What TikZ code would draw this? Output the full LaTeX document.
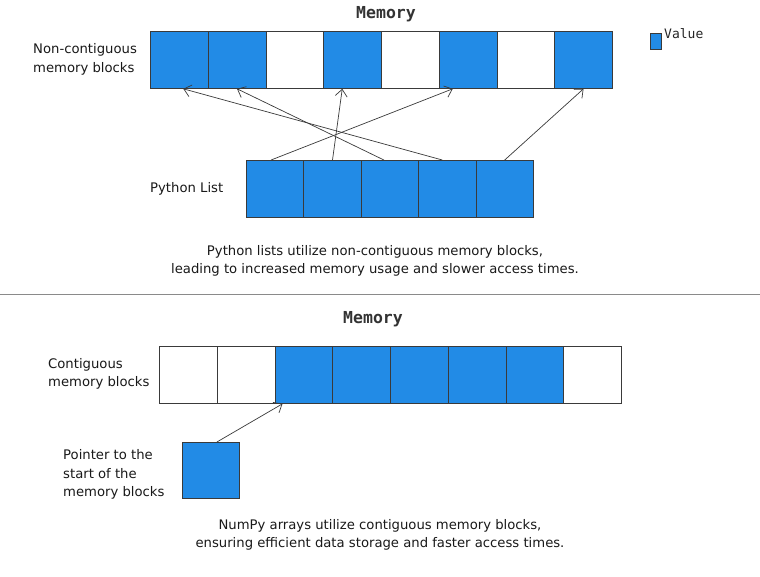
\documentclass[tikz,border=0pt]{standalone}
\usepackage{fontspec}
\setmainfont{DejaVu Sans}
\newfontfamily\monofont{DejaVu Sans Mono}
\usetikzlibrary{arrows.meta}
\definecolor{xblue}{HTML}{228BE6}
\definecolor{xstroke}{HTML}{3A3A3A}
\definecolor{xline}{HTML}{8A8A8A}
\tikzset{
  cell/.style={draw=xstroke, line width=0.8pt, minimum width=57.75pt, minimum height=57pt, inner sep=0pt, anchor=north west},
  bluecell/.style={cell, fill=xblue},
  whitecell/.style={cell, fill=white},
  ptr/.style={draw=xstroke, line width=0.7pt, -{Straight Barb[length=7pt,width=12pt]}},
  hand/.style={font=\fontsize{13.2}{18.5}\selectfont, text=black!90, inner sep=0pt},
  title/.style={font=\monofont\bfseries\fontsize{16.5}{18}\selectfont, text=black!80, inner sep=0pt},
}
\begin{document}
\begin{tikzpicture}[x=1pt, y=-1pt]
\useasboundingbox[fill=white] (0,0) rectangle (760,576);
% titles
\node[title] (t1) at (386,14) {Memory};
\node[title] (t2) at (373,319) {Memory};
% legend
\node[bluecell, minimum width=11pt, minimum height=16pt] (lg) at (650,33) {};
\node[font=\monofont\fontsize{13}{15}\selectfont, text=black!85, anchor=west, inner sep=0pt] (lgt) at (664,34) {Value};
% top memory row
\foreach \i/\s in {1/bluecell,2/bluecell,3/whitecell,4/bluecell,5/whitecell,6/bluecell,7/whitecell,8/bluecell}{
  \node[\s] (m\i) at ({150+(\i-1)*57.75},31) {};
}
\node[hand, align=left, anchor=west] (ncl) at (33,59.5) {Non-contiguous\\memory blocks};
% python list
\foreach \i in {1,...,5}{
  \node[bluecell, minimum width=57.4pt] (l\i) at ({246+(\i-1)*57.4},160) {};
}
\node[hand, anchor=west] (pl) at (150,189) {Python List};
% arrows
\draw[ptr] ([xshift=-4pt]l1.north) -- ([xshift=14pt]m6.south west);
\draw[ptr] (l2.north) -- ([xshift=19pt]m4.south west);
\draw[ptr] ([xshift=-6pt]l3.north) -- (m2.south);
\draw[ptr] ([xshift=-5pt]l4.north) -- ([xshift=4pt]m1.south);
\draw[ptr] (l5.north) -- (m8.south);
% caption top
\node[hand, align=center] (c1) at (375,261) {Python lists utilize non-contiguous memory blocks,\\leading to increased memory usage and slower access times.};
% divider
\coordinate (dl) at (0,294);
\coordinate (dr) at (760,294);
\draw[xline, line width=0.8pt] (dl) -- (dr);
% bottom memory row
\foreach \i/\s in {1/whitecell,2/whitecell,3/bluecell,4/bluecell,5/bluecell,6/bluecell,7/bluecell,8/whitecell}{
  \node[\s] (n\i) at ({159+(\i-1)*57.75},346) {};
}
\node[hand, align=left, anchor=west] (cl) at (48,374) {Contiguous\\memory blocks};
% pointer
\node[bluecell, minimum width=57pt, minimum height=56pt] (p) at (182,442) {};
\node[hand, align=left, anchor=west] (pt) at (63,474.5) {Pointer to the\\start of the\\memory blocks};
\draw[ptr] ([xshift=6pt]p.north) -- ([xshift=8pt]n3.south west);
% caption bottom
\node[hand, align=center] (c2) at (380,535) {NumPy arrays utilize contiguous memory blocks,\\ensuring efficient data storage and faster access times.};
\end{tikzpicture}
\end{document}
